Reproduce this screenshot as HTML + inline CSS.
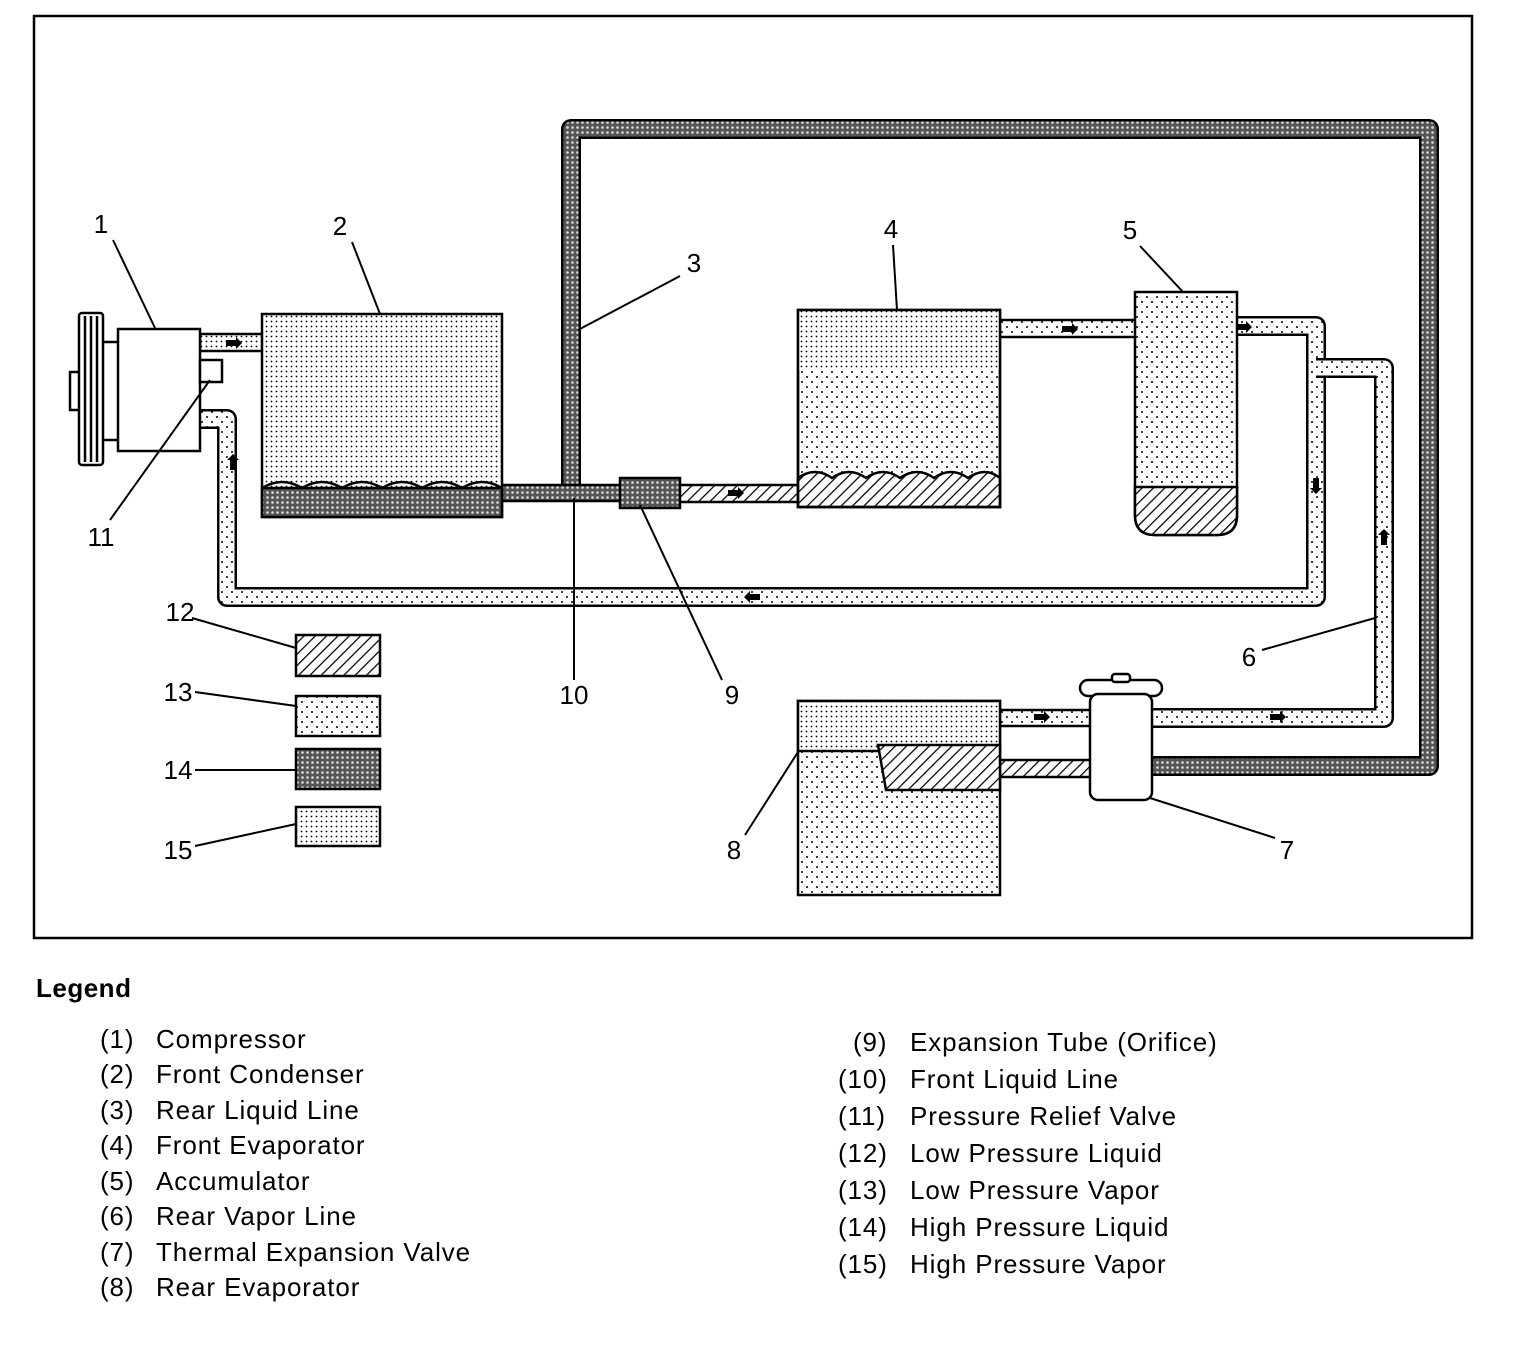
<!DOCTYPE html>
<html><head><meta charset="utf-8">
<style>
html,body{margin:0;padding:0;background:#fff;}
body{width:1536px;height:1346px;position:relative;overflow:hidden;font-family:"Liberation Sans",Arial,sans-serif;}
svg{position:absolute;left:0;top:0;}
.leg{position:absolute;font-size:26px;letter-spacing:0.9px;color:#000;white-space:nowrap;line-height:1;}
</style></head><body>
<svg width="1536" height="1346" viewBox="0 0 1536 1346">
<defs>
<pattern id="hatch" width="8" height="8" patternUnits="userSpaceOnUse" patternTransform="rotate(45)">
<rect width="8" height="8" fill="#fff"/><line x1="0" y1="0" x2="0" y2="8" stroke="#000" stroke-width="2.5"/></pattern>
<pattern id="sparse" width="10" height="10" patternUnits="userSpaceOnUse">
<rect width="10" height="10" fill="#fff"/><circle cx="2" cy="2" r="1" fill="#000"/><circle cx="7" cy="7" r="1" fill="#000"/></pattern>
<pattern id="fine" width="5" height="5" patternUnits="userSpaceOnUse">
<rect width="5" height="5" fill="#fff"/><circle cx="1.5" cy="1.5" r="0.9" fill="#000"/></pattern>
<pattern id="dense" width="5" height="5" patternUnits="userSpaceOnUse">
<rect width="5" height="5" fill="#555"/><circle cx="2.5" cy="2.5" r="1.3" fill="#ddd"/></pattern>
</defs>
<g fill="none" stroke="#000">
<rect x="34" y="16" width="1438" height="922" stroke-width="2.5"/>
</g>
<g stroke-linejoin="round" fill="none">
<!-- rear liquid line loop -->
<path d="M571 490 V129 H1429 V766 H1150" stroke="#000" stroke-width="20"/>
<path d="M571 490 V129 H1429 V766 H1150" stroke="url(#dense)" stroke-width="15"/>
<!-- return line to compressor -->
<path d="M200 419 H227 V597 H1316 V326 H1237" stroke="#000" stroke-width="20"/>
<path d="M200 419 H227 V597 H1316 V326 H1237" stroke="url(#sparse)" stroke-width="15"/>
<!-- rear vapor line -->
<path d="M1316 368 H1384 V718 H1150" stroke="#000" stroke-width="20"/>
<path d="M1316 368 H1384 V718 H1150" stroke="url(#sparse)" stroke-width="15"/>
</g>
<g stroke="#000" stroke-width="2.5">
<rect x="200" y="334" width="64" height="17" fill="url(#fine)"/>
<rect x="500" y="485" width="125" height="16" fill="url(#dense)"/>
<rect x="620" y="478" width="60" height="30" fill="url(#dense)"/>
<rect x="680" y="485" width="120" height="17" fill="url(#hatch)"/>
<rect x="998" y="320" width="140" height="17" fill="url(#sparse)"/>
<rect x="998" y="710" width="94" height="16" fill="url(#sparse)"/>
<rect x="998" y="760" width="94" height="17" fill="url(#hatch)"/>
</g>
<g stroke="#000" stroke-width="2.5">
<!-- compressor -->
<rect x="70" y="372" width="10" height="38" fill="#fff"/>
<rect x="79" y="313" width="24" height="152" rx="3" fill="#fff"/>
<line x1="85" y1="316" x2="85" y2="462"/><line x1="91" y1="316" x2="91" y2="462"/><line x1="97" y1="316" x2="97" y2="462"/>
<line x1="103" y1="342" x2="117" y2="342"/><line x1="103" y1="440" x2="117" y2="440"/>
<rect x="118" y="329" width="82" height="122" fill="#fff"/>
<rect x="200" y="360" width="22" height="22" fill="#fff"/>
<!-- condenser -->
<rect x="262" y="314" width="240" height="203" fill="url(#fine)"/>
<rect x="262" y="488" width="240" height="29" fill="url(#dense)"/>
<path d="M262 488 q20 -12 40 0 q20 -12 40 0 q20 -12 40 0 q20 -12 40 0 q20 -12 40 0 q20 -12 40 0" fill="none"/>
<!-- evaporator 4 -->
<rect x="798" y="310" width="202" height="197" fill="url(#sparse)"/>
<rect x="798" y="310" width="202" height="60" fill="url(#fine)" stroke="none"/>
<path d="M798 478 q17 -12 34 0 q17 -12 34 0 q17 -12 34 0 q17 -12 34 0 q17 -12 34 0 q17 -12 32 0 V507 H798 Z" fill="url(#hatch)"/>
<rect x="798" y="310" width="202" height="197" fill="none"/>
<!-- accumulator -->
<path d="M1135 292 H1237 V515 q0 20 -20 20 H1155 q-20 0 -20 -20 Z" fill="url(#sparse)"/>
<path d="M1135 487 H1237 V515 q0 20 -20 20 H1155 q-20 0 -20 -20 Z" fill="url(#hatch)"/>
<!-- rear evaporator -->
<rect x="798" y="701" width="202" height="194" fill="url(#sparse)"/>
<rect x="798" y="701" width="202" height="50" fill="url(#fine)"/>
<path d="M878 745 H1000 V790 H886 Z" fill="url(#hatch)"/>
<!-- TXV -->
<rect x="1080" y="680" width="82" height="16" rx="8" fill="#fff"/>
<rect x="1112" y="674" width="18" height="8" rx="3" fill="#fff"/>
<rect x="1090" y="694" width="62" height="106" rx="8" fill="#fff"/>
<!-- legend swatches -->
<rect x="296" y="635" width="84" height="41" fill="url(#hatch)"/>
<rect x="296" y="696" width="84" height="40" fill="url(#sparse)"/>
<rect x="296" y="749" width="84" height="40" fill="url(#dense)"/>
<rect x="296" y="807" width="84" height="39" fill="url(#fine)"/>
</g>
<g stroke="#000" stroke-width="2" fill="none">
<line x1="113" y1="240" x2="155" y2="328"/>
<line x1="352" y1="242" x2="380" y2="314"/>
<line x1="680" y1="276" x2="578" y2="330"/>
<line x1="893" y1="245" x2="897" y2="310"/>
<line x1="1140" y1="246" x2="1183" y2="292"/>
<line x1="110" y1="520" x2="210" y2="380"/>
<line x1="574" y1="680" x2="574" y2="498"/>
<line x1="722" y1="680" x2="640" y2="505"/>
<line x1="1262" y1="650" x2="1375" y2="618"/>
<line x1="1275" y1="838" x2="1150" y2="798"/>
<line x1="745" y1="835" x2="798" y2="752"/>
<line x1="192" y1="618" x2="296" y2="648"/>
<line x1="195" y1="692" x2="296" y2="706"/>
<line x1="195" y1="770" x2="296" y2="770"/>
<line x1="195" y1="846" x2="296" y2="824"/>
</g>
<g fill="#000">
<polygon points="226,340 236,340 236,337 242,343 236,349 236,346 226,346"/>
<polygon points="1062,326 1072,326 1072,323 1078,329 1072,335 1072,332 1062,332"/>
<polygon points="1236,324 1246,324 1246,321 1252,327 1246,333 1246,330 1236,330"/>
<polygon points="728,490 738,490 738,487 744,493 738,499 738,496 728,496"/>
<polygon points="760,594 750,594 750,591 744,597 750,603 750,600 760,600"/>
<polygon points="1034,714 1044,714 1044,711 1050,717 1044,723 1044,720 1034,720"/>
<polygon points="1270,714 1280,714 1280,711 1286,717 1280,723 1280,720 1270,720"/>
<polygon points="1313,478 1313,488 1310,488 1316,494 1322,488 1319,488 1319,478"/>
<polygon points="1381,545 1381,535 1378,535 1384,529 1390,535 1387,535 1387,545"/>
<polygon points="230,470 230,460 227,460 233,454 239,460 236,460 236,470"/>
</g>
<g font-family="Liberation Sans, Arial, sans-serif" font-size="26" fill="#000" text-anchor="middle">
<text x="101" y="233">1</text>
<text x="340" y="235">2</text>
<text x="694" y="272">3</text>
<text x="891" y="238">4</text>
<text x="1130" y="239">5</text>
<text x="1249" y="666">6</text>
<text x="1287" y="859">7</text>
<text x="734" y="859">8</text>
<text x="732" y="704">9</text>
<text x="574" y="704">10</text>
<text x="101" y="546">11</text>
<text x="180" y="621">12</text>
<text x="178" y="701">13</text>
<text x="178" y="779">14</text>
<text x="178" y="859">15</text>
</g>
</svg>
<div class="leg" style="left:36px;top:975px;font-weight:bold;letter-spacing:0.5px;">Legend</div>
<div class="leg" style="left:100px;top:1026px;">(1)</div><div class="leg" style="left:156px;top:1026px;">Compressor</div>
<div class="leg" style="left:100px;top:1061px;">(2)</div><div class="leg" style="left:156px;top:1061px;">Front Condenser</div>
<div class="leg" style="left:100px;top:1097px;">(3)</div><div class="leg" style="left:156px;top:1097px;">Rear Liquid Line</div>
<div class="leg" style="left:100px;top:1132px;">(4)</div><div class="leg" style="left:156px;top:1132px;">Front Evaporator</div>
<div class="leg" style="left:100px;top:1168px;">(5)</div><div class="leg" style="left:156px;top:1168px;">Accumulator</div>
<div class="leg" style="left:100px;top:1203px;">(6)</div><div class="leg" style="left:156px;top:1203px;">Rear Vapor Line</div>
<div class="leg" style="left:100px;top:1239px;">(7)</div><div class="leg" style="left:156px;top:1239px;">Thermal Expansion Valve</div>
<div class="leg" style="left:100px;top:1274px;">(8)</div><div class="leg" style="left:156px;top:1274px;">Rear Evaporator</div>
<div class="leg" style="left:853px;top:1029px;">(9)</div><div class="leg" style="left:910px;top:1029px;">Expansion Tube (Orifice)</div>
<div class="leg" style="left:838px;top:1066px;">(10)</div><div class="leg" style="left:910px;top:1066px;">Front Liquid Line</div>
<div class="leg" style="left:838px;top:1103px;">(11)</div><div class="leg" style="left:910px;top:1103px;">Pressure Relief Valve</div>
<div class="leg" style="left:838px;top:1140px;">(12)</div><div class="leg" style="left:910px;top:1140px;">Low Pressure Liquid</div>
<div class="leg" style="left:838px;top:1177px;">(13)</div><div class="leg" style="left:910px;top:1177px;">Low Pressure Vapor</div>
<div class="leg" style="left:838px;top:1214px;">(14)</div><div class="leg" style="left:910px;top:1214px;">High Pressure Liquid</div>
<div class="leg" style="left:838px;top:1251px;">(15)</div><div class="leg" style="left:910px;top:1251px;">High Pressure Vapor</div>
</body></html>
